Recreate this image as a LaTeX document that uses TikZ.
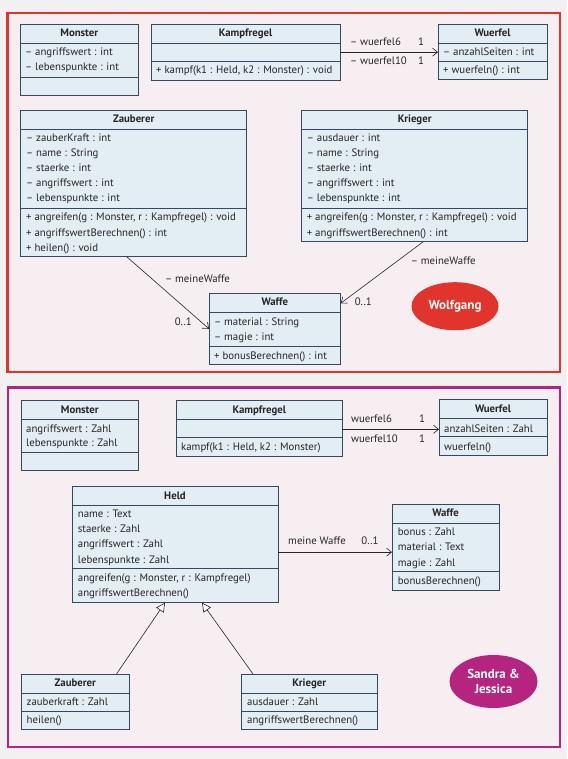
\documentclass[tikz,border=0pt]{standalone}
\usepackage{fontspec}
\setmainfont{PT Sans}
\usetikzlibrary{arrows.meta,shapes.geometric}
\definecolor{pagebg}{HTML}{F2F0F0}
\definecolor{framebg}{HTML}{F6EEF1}
\definecolor{redc}{HTML}{E0342C}
\definecolor{magc}{HTML}{B5247E}
\definecolor{boxfill}{HTML}{E3EDF4}
\definecolor{boxline}{HTML}{34495E}
\definecolor{textc}{HTML}{262626}
\newcounter{tn}
\tikzset{
  clsbox/.style={draw=boxline, fill=boxfill, line width=0.7pt, inner sep=0pt, outer sep=0pt, rectangle},
  clsline/.style={draw=boxline, line width=0.7pt},
  txt/.style={anchor=west, inner sep=0pt, text=textc, font=\fontsize{10.8}{12}\selectfont, text height=7.7pt, text depth=2.3pt},
  hdtxt/.style={anchor=center, inner sep=0pt, text=textc, font=\fontsize{10.8}{12}\selectfont\bfseries, text height=7.7pt, text depth=2.3pt},
  lbl/.style={anchor=center, inner sep=0pt, text=textc, font=\fontsize{10.8}{12}\selectfont, text height=7.7pt, text depth=2.3pt},
  assoc/.style={draw=textc, line width=0.6pt, -{Straight Barb[length=5pt,width=8pt]}},
  inherit/.style={draw=textc, line width=0.6pt, -{Triangle[length=9pt,width=9pt,fill=white]}},
  badge/.style={ellipse, inner sep=0pt, text=white, align=center, font=\fontsize{13}{15}\selectfont\bfseries},
}
\newcommand\cls[7]{%
  \node[clsbox, minimum width={#4pt-#2pt}, minimum height={#5pt-#3pt}] (#1) at ({(#2+#4)/2},{(#3+#5)/2}) {};
  \draw[clsline] (#2,#6) -- (#4,#6);
  \draw[clsline] (#2,#7) -- (#4,#7);
}
\newcommand\tl[3]{\stepcounter{tn}\node[txt] (t\arabic{tn}) at (#1,#2) {#3};}
\newcommand\hd[3]{\stepcounter{tn}\node[hdtxt] (t\arabic{tn}) at (#1,#2) {#3};}
\newcommand\lb[3]{\stepcounter{tn}\node[lbl] (t\arabic{tn}) at (#1,#2) {#3};}
\begin{document}
\begin{tikzpicture}[x=1pt,y=-1pt]
\useasboundingbox (0,0) rectangle (567,759);
\fill[pagebg] (0,0) rectangle (567,759);
% frames
\draw[redc, line width=2.2pt, fill=framebg] (7.5,13) rectangle (560,372);
\draw[magc, line width=2.2pt, fill=framebg] (8,387.5) rectangle (560,747);

% ================= top panel =================
\cls{M1}{20}{24.3}{138.5}{95}{43.3}{77.3}
\hd{79.3}{34}{Monster}
\tl{25}{52.7}{– angriffswert : int}
\tl{25}{68.3}{– lebenspunkte : int}

\cls{K1}{151}{24.3}{340}{80}{43.3}{61.7}
\hd{245.5}{34}{Kampfregel}
\tl{156}{71}{+ kampf(k1 : Held, k2 : Monster) : void}

\cls{U1}{438}{24.3}{547}{79.3}{43.3}{61.7}
\hd{492.5}{34}{Wuerfel}
\tl{443}{52.7}{– anzahlSeiten : int}
\tl{443}{71}{+ wuerfeln() : int}

\draw[assoc] (K1.east) -- (K1.east -| U1.west);
\tl{350}{43.3}{– wuerfel6}
\lb{421}{43.3}{1}
\tl{350}{62.3}{– wuerfel10}
\lb{421}{62.3}{1}

\cls{Z1}{20.7}{110}{246.7}{256.7}{129.3}{208.3}
\hd{133.7}{120.3}{Zauberer}
\tl{26}{139.3}{– zauberKraft : int}
\tl{26}{154.3}{– name : String}
\tl{26}{169.3}{– staerke : int}
\tl{26}{184.3}{– angriffswert : int}
\tl{26}{199.3}{– lebenspunkte : int}
\tl{26}{218.3}{+ angreifen(g : Monster, r : Kampfregel) : void}
\tl{26}{233.5}{+ angriffswertBerechnen() : int}
\tl{26}{248.3}{+ heilen() : void}

\cls{R1}{301.7}{110}{527.7}{241.7}{129}{208.3}
\hd{414.7}{120}{Krieger}
\tl{306.7}{138.7}{– ausdauer : int}
\tl{306.7}{154}{– name : String}
\tl{306.7}{169}{– staerke : int}
\tl{306.7}{184}{– angriffswert : int}
\tl{306.7}{199.3}{– lebenspunkte : int}
\tl{306.7}{218}{+ angreifen(g : Monster, r : Kampfregel) : void}
\tl{306.7}{233.3}{+ angriffswertBerechnen() : int}

\cls{W1}{209}{293.3}{340.7}{364.3}{312.3}{346.7}
\hd{274.8}{303}{Waffe}
\tl{214}{322.3}{– material : String}
\tl{214}{337.7}{– magie : int}
\tl{214}{356.7}{+ bonusBerechnen() : int}

\draw[assoc] ([xshift=106pt]Z1.south west) -- (W1.west);
\draw[assoc] ([xshift=121.6pt]R1.south west) -- ([yshift=25.5pt]W1.east);
\tl{165}{279.3}{– meineWaffe}
\lb{183.3}{322.7}{0..1}
\tl{410.7}{262}{– meineWaffe}
\lb{363.3}{302.7}{0..1}

\node[badge, fill=redc, minimum width=87pt, minimum height=48pt] (wolf) at (455,306.2) {Wolfgang};

% ================= bottom panel =================
\cls{M2}{21}{400.7}{138.5}{470.7}{419.3}{452.7}
\hd{79.8}{410.3}{Monster}
\tl{26}{429.3}{angriffswert : Zahl}
\tl{26}{443.3}{lebenspunkte : Zahl}

\cls{K2}{176.5}{400.7}{342}{456}{419.3}{437.3}
\hd{259.3}{410.3}{Kampfregel}
\tl{181}{448}{kampf(k1 : Held, k2 : Monster)}

\cls{U2}{439}{399.3}{547}{455.3}{418.3}{436.7}
\hd{493}{409.5}{Wuerfel}
\tl{444}{429.3}{anzahlSeiten : Zahl}
\tl{444}{447.7}{wuerfeln()}

\coordinate (kw) at ([yshift=-2pt]U2.west);
\draw[assoc] (K2.east |- kw) -- (kw);
\tl{351}{419.3}{wuerfel6}
\lb{422}{419.3}{1}
\tl{351}{439.3}{wuerfel10}
\lb{422}{439.3}{1}

\cls{H}{72}{486.7}{278}{602.7}{505}{568.3}
\hd{175}{496.3}{Held}
\tl{77.7}{515}{name : Text}
\tl{77.7}{530}{staerke : Zahl}
\tl{77.7}{545}{angriffswert : Zahl}
\tl{77.7}{560.5}{lebenspunkte : Zahl}
\tl{77.7}{579}{angreifen(g : Monster, r : Kampfregel)}
\tl{77.7}{594}{angriffswertBerechnen()}

\cls{W2}{392}{504.3}{499}{590}{523.3}{571.7}
\hd{445.5}{513.5}{Waffe}
\tl{397.7}{533}{bonus : Zahl}
\tl{397.7}{548}{material : Text}
\tl{397.7}{563.3}{magie : Zahl}
\tl{397.7}{582}{bonusBerechnen()}

\coordinate (hw) at ([yshift=-5pt]W2.west);
\draw[assoc] (H.east |- hw) -- (hw);
\lb{317}{541.7}{meine Waffe}
\lb{370}{541.7}{0..1}

\cls{Z2}{21.7}{674}{129}{729.3}{693.3}{711.7}
\hd{75.3}{683.3}{Zauberer}
\tl{26.5}{702.5}{zauberkraft : Zahl}
\tl{26.5}{720.7}{heilen()}

\cls{R2}{241.6}{674}{377}{729.3}{693.3}{711.7}
\hd{309.3}{683.3}{Krieger}
\tl{247}{702.5}{ausdauer : Zahl}
\tl{247}{720.7}{angriffswertBerechnen()}

\draw[inherit] ([xshift=94.8pt]Z2.north west) -- ([xshift=93pt]H.south west);
\draw[inherit] ([xshift=11.4pt]R2.north west) -- ([xshift=130pt]H.south west);

\node[badge, fill=magc, minimum width=88pt, minimum height=53pt] (sj) at (493.5,681.5) {Sandra \&\\Jessica};
\end{tikzpicture}
\end{document}
